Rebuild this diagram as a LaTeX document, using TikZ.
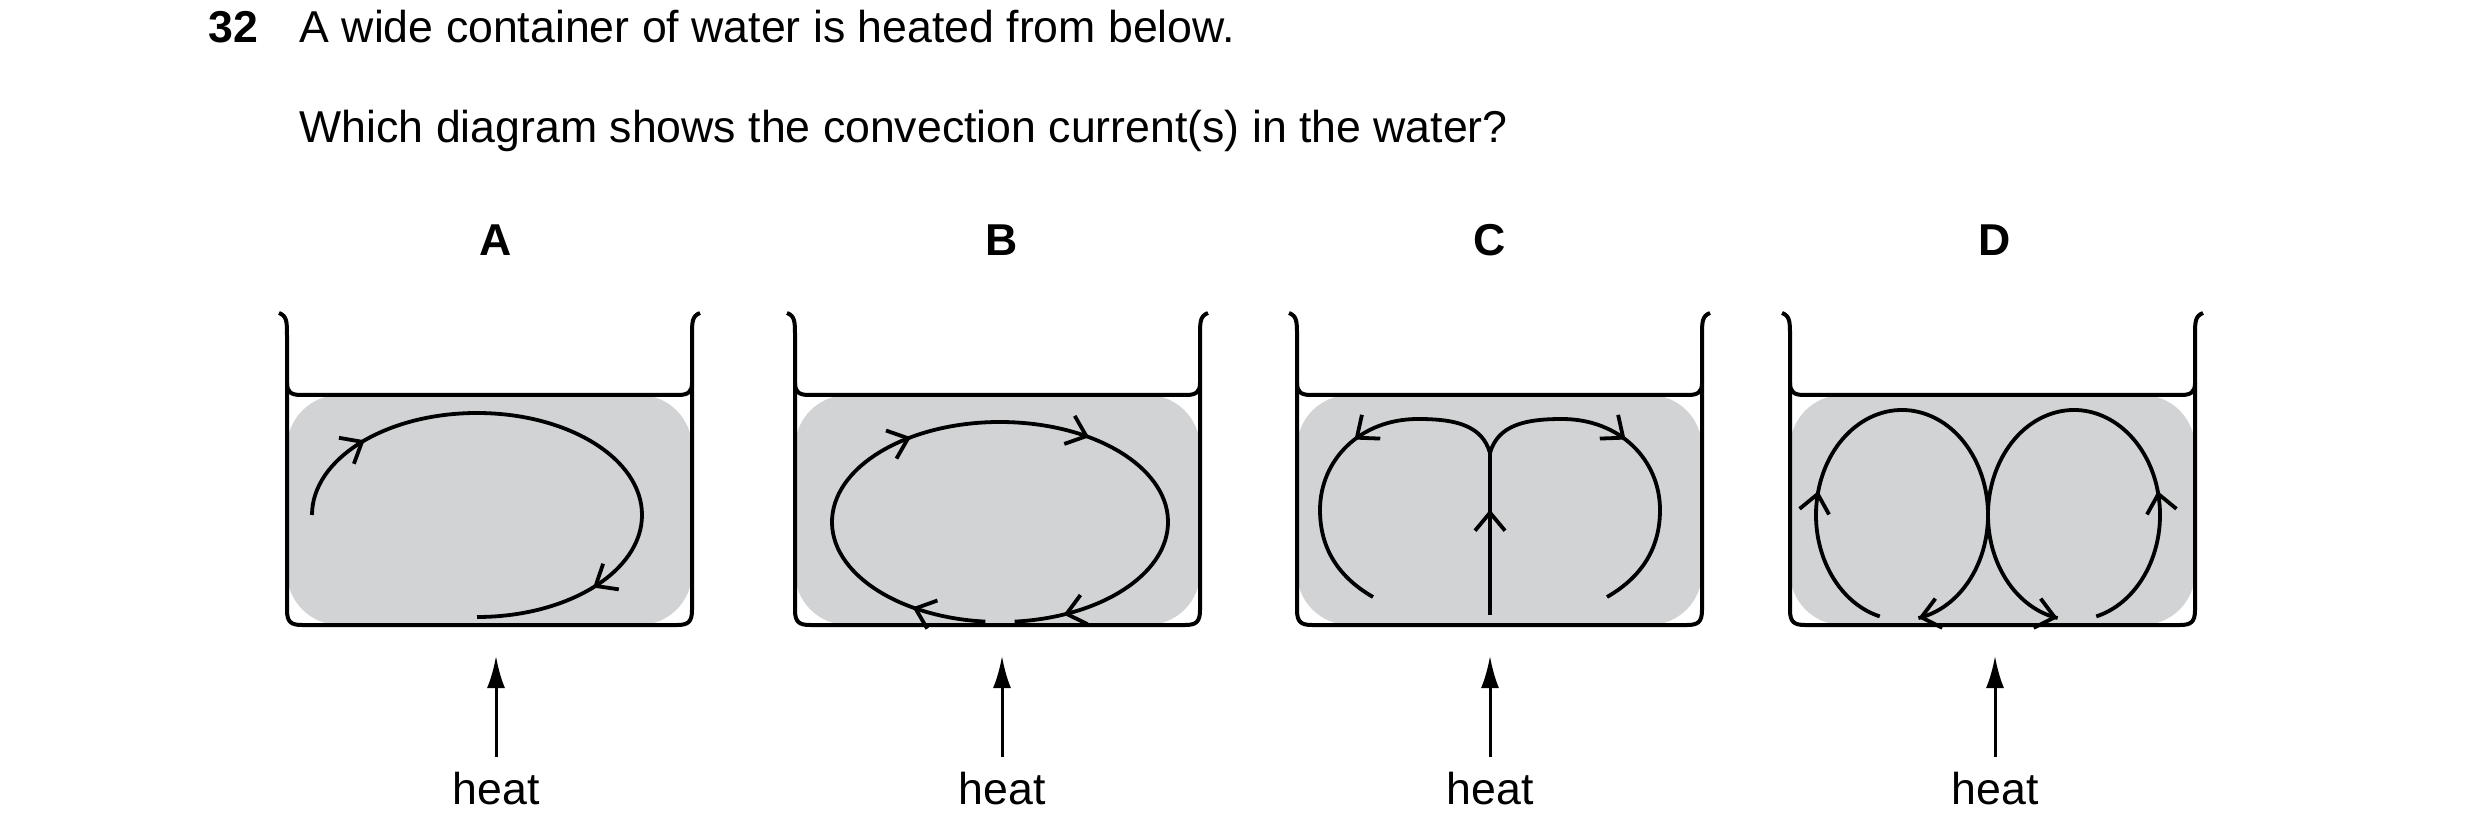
\documentclass[tikz,border=0pt]{standalone}
\usepackage{fontspec}
\setmainfont{Liberation Sans}
\usetikzlibrary{arrows.meta,decorations.markings}
\definecolor{watergrey}{RGB}{209,211,213}
\tikzset{
  wall/.style={line width=0.4mm,line join=round},
  flow/.style={line width=0.38mm},
  barb/.style={postaction={decorate,decoration={markings,
      mark=at position #1 with {\arrow[line width=0.38mm]{Straight Barb[length=1.8mm,width=3mm]}}}}},
  txt/.style={font=\fontsize{12.7}{15}\selectfont,inner sep=0pt},
  heatarrow/.style={line width=0.3mm,-{Latex[length=3.2mm,width=1.8mm]}}
}
\begin{document}
\begin{tikzpicture}[x=0.1mm,y=-0.1mm]
    \useasboundingbox (0,0) rectangle (2480,837);

    \node[txt,font=\fontsize{12.7}{15}\selectfont\bfseries,anchor=west] (qnum) at (208,27) {32};
    \node[txt,anchor=west] (line1) at (299,27) {A wide container of water is heated from below.};
    \node[txt,anchor=west] (line2) at (299,131) {Which diagram shows the convection current(s) in the water?};

    % containers
    \foreach \L/\lab/\hx in {287/A/496, 795/B/1002, 1297/C/1490, 1790/D/1995} {
      \pgfmathsetmacro{\R}{\L+405}
      \pgfmathsetmacro{\M}{\L+202}
      \fill[watergrey,rounded corners=15] (\L,395) -- (\L,625) -- (\R,625) -- (\R,395) -- cycle;
      \draw[wall] (\L-8,313) .. controls (\L,316) and (\L,322) .. (\L,336) -- (\L,610)
        .. controls (\L,622) and (\L+4,625) .. (\L+15,625) -- (\R-15,625)
        .. controls (\R-4,625) and (\R,622) .. (\R,610) -- (\R,336)
        .. controls (\R,322) and (\R,316) .. (\R+8,313);
      \draw[wall] (\L,383) .. controls (\L,392) and (\L+4,395) .. (\L+14,395) -- (\R-14,395)
        .. controls (\R-4,395) and (\R,392) .. (\R,383);
      \node[txt,font=\fontsize{12.7}{15}\selectfont\bfseries] (lab\lab) at (\hx,240) {\lab};
      \node[txt] (heat\lab) at (\hx,789) {heat};
      \coordinate (tip\lab) at (\hx,656);
      \coordinate (base\lab) at (\hx,757);
      \draw[heatarrow] (base\lab) -- (tip\lab);
    }

    % A: one current
    \draw[flow,barb=0.15,barb=0.81] (312,515) arc (180:450:165 and 102);

    % B: one current, right round
    \draw[flow,barb=0.09,barb=0.39,barb=0.61,barb=0.94] (1000,522) ++(95:168 and 100) arc (95:445:168 and 100);

    % C: up the middle, down the sides
    \draw[flow,barb=0.65] (1490,615) -- (1490,453);
    \draw[flow,barb=0.45] (1490,453) .. controls (1498,425) and (1525,419) .. (1562,419)
      .. controls (1620,419) and (1660,460) .. (1660,510)
      .. controls (1660,550) and (1640,578) .. (1607,597);
    \draw[flow,barb=0.45] (1490,453) .. controls (1482,425) and (1455,419) .. (1418,419)
      .. controls (1360,419) and (1320,460) .. (1320,510)
      .. controls (1320,550) and (1340,578) .. (1373,597);

    % D: two currents, down the middle
    \draw[flow,barb=0.27,barb=1] (1902,515) ++(105:86 and 105) arc (105:439:86 and 105);
    \draw[flow,barb=0.27,barb=1] (2074,515) ++(75:86 and 105) arc (75:-259:86 and 105);
\end{tikzpicture}
\end{document}
